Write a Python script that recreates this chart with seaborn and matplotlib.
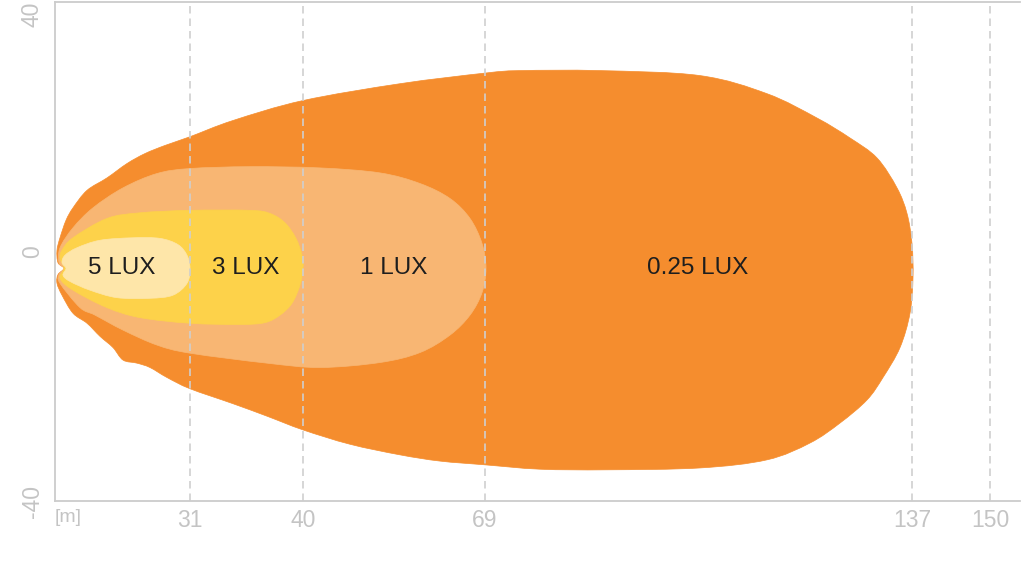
import matplotlib
matplotlib.use("Agg")
import matplotlib.pyplot as plt
from matplotlib.path import Path
from matplotlib.patches import PathPatch
import seaborn as sns
import numpy as np

# ---- data (x: position along the beam axis, y: lateral spread) ----
levels = ["0.25 LUX", "1 LUX", "3 LUX", "5 LUX"]
colors = ["#F58D2E", "#F8B673", "#FDD24A", "#FEE6A9"]

outer_x = [3, 2, 5, 11, 18, 32, 52, 72, 90, 110, 135, 178, 248, 345, 430, 465, 545, 645, 712, 762,
           795, 822, 842, 852, 857, 858, 855, 845, 828, 812, 785, 755, 712, 645, 552, 485, 430, 385,
           345, 295, 248, 212, 178, 135, 112, 95, 82, 68, 58, 45, 32, 18, 7, 2, 3, 9]
outer_y = [-1.8, 0.2, 2.2, 5.0, 7.0, 9.8, 11.8, 14.1, 15.7, 17.0, 18.4, 21.0, 24.2, 26.9, 28.6, 29.0,
           29.0, 28.2, 25.3, 21.4, 18.2, 15.0, 10.2, 6.1, 1.3, -4.2, -9.9, -15.4, -20.2, -23.8, -27.5,
           -30.7, -33.4, -34.7, -35.0, -34.9, -34.2, -33.6, -32.6, -30.9, -28.6, -26.4, -24.4, -22.0,
           -20.2, -18.6, -17.9, -17.4, -15.4, -13.6, -11.5, -9.9, -7.0, -5.1, -3.7, -2.7]

lux1_x = [4, 5, 18, 38, 68, 102, 135, 195, 265, 325, 365, 395, 415, 427, 431, 427, 415, 395, 365, 325,
          265, 212, 135, 102, 68, 40, 25, 5, 4, 9]
lux1_y = [-1.8, 0.6, 3.8, 7.0, 10.2, 12.5, 13.3, 13.6, 13.4, 12.6, 10.9, 8.5, 5.3, 1.3, -2.7, -6.6,
          -10.2, -13.4, -16.2, -17.8, -18.6, -17.9, -16.3, -15.0, -12.6, -10.2, -9.0, -5.1, -3.7, -2.7]

lux3_x = [5, 7, 18, 52, 85, 135, 195, 215, 230, 241, 247, 248, 245, 237, 225, 210, 185, 135, 85, 52,
          18, 5, 9]
lux3_y = [-1.1, 0.2, 2.2, 5.3, 6.2, 6.6, 6.6, 6.1, 4.6, 2.1, -0.6, -2.7, -5.4, -8.3, -10.2, -11.4,
          -11.7, -11.5, -10.6, -9.0, -6.2, -4.3, -2.7]

lux5_x = [7, 10, 22, 45, 78, 105, 123, 132, 135, 132, 118, 95, 62, 35, 15, 8, 11]
lux5_y = [-1.8, -0.6, 0.6, 1.8, 2.2, 2.1, 1.1, -0.6, -2.7, -5.1, -7.0, -7.5, -7.4, -6.2, -4.8, -3.8, -2.7]

label_x = [643, 339, 191, 67]
label_y = [-2.6, -2.6, -2.6, -2.6]

xtick_pos = [135, 248, 430, 857, 935]
xtick_labels = ["31", "40", "69", "137", "150"]
ytick_vals = [-40, 0, 40]
ytick_labels = ["-40", "0", "40"]


def smooth_closed_path(xs, ys):
    """Closed Catmull-Rom curve through the outline points, drawn as cubic Beziers."""
    p = np.column_stack([xs, ys]).astype(float)
    n = len(p)
    verts = [p[0]]
    codes = [Path.MOVETO]
    for i in range(n):
        p0, p1, p2, p3 = p[i - 1], p[i], p[(i + 1) % n], p[(i + 2) % n]
        c1 = p1 + (p2 - p0) / 6.0
        c2 = p2 - (p3 - p1) / 6.0
        verts += [c1, c2, p2]
        codes += [Path.CURVE4] * 3
    return Path(np.array(verts), codes)


# ---- plot ----
sns.set_theme(style="white")
plt.rcParams["font.family"] = ["Liberation Sans", "DejaVu Sans"]

fig = plt.figure(figsize=(10.24, 5.70), dpi=100)
ax = fig.add_axes([55 / 1024, 1 - 501 / 570, 965 / 1024, 499 / 570])

shapes = [(outer_x, outer_y), (lux1_x, lux1_y), (lux3_x, lux3_y), (lux5_x, lux5_y)]
for (sx, sy), c in zip(shapes, colors):
    ax.add_patch(PathPatch(smooth_closed_path(sx, sy), facecolor=c, edgecolor=c, lw=0.5, zorder=1))

for lx, ly, t in zip(label_x, label_y, levels):
    ax.text(lx, ly, t, ha="center", va="center", fontsize=17.5, color="#1e1e1e", zorder=4)

for xp in xtick_pos:
    ax.axvline(xp, color="#cfcfcf", lw=1.2, ls=(0, (4.5, 3)), zorder=2)

ax.set_xlim(0, 965)
ax.set_ylim(-40, 40)

ax.set_xticks([0] + xtick_pos)
ax.set_xticklabels(["[m]"] + xtick_labels)
ax.set_yticks(ytick_vals)
ax.set_yticklabels(ytick_labels, rotation=90)

ax.tick_params(axis="x", length=0, pad=6, labelsize=16.5, labelcolor="#c4c4c4")
ax.tick_params(axis="y", length=0, pad=8, labelsize=16.5, labelcolor="#c4c4c4")
xl = ax.get_xticklabels()
xl[0].set_ha("left")
xl[0].set_fontsize(14)
yl = ax.get_yticklabels()
yl[0].set_va("center")
yl[1].set_va("center")
yl[2].set_va("top")

for side in ["left", "top", "bottom"]:
    ax.spines[side].set_color("#cccccc")
    ax.spines[side].set_linewidth(1.3)
ax.spines["right"].set_visible(False)
ax.grid(False)

fig.savefig("out.png", dpi=100, facecolor="white")
